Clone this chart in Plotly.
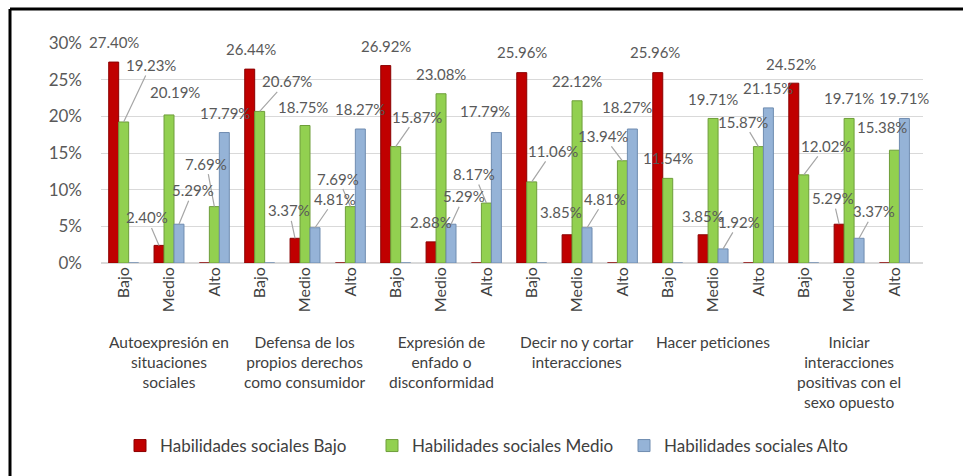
import plotly.graph_objects as go

# ---- data ----
groups = [
    "Autoexpresión en<br>situaciones<br>sociales",
    "Defensa de los<br>propios derechos<br>como consumidor",
    "Expresión de<br>enfado o<br>disconformidad",
    "Decir no y cortar<br>interacciones",
    "Hacer peticiones",
    "Iniciar<br>interacciones<br>positivas con el<br>sexo opuesto",
]
levels = ["Bajo", "Medio", "Alto"]
series_names = ["Habilidades sociales Bajo", "Habilidades sociales Medio", "Habilidades sociales Alto"]

hs_bajo = [27.40, 2.40, 0, 26.44, 3.37, 0, 26.92, 2.88, 0, 25.96, 3.85, 0, 25.96, 3.85, 0, 24.52, 5.29, 0]
hs_medio = [19.23, 20.19, 7.69, 20.67, 18.75, 7.69, 15.87, 23.08, 8.17, 11.06, 22.12, 13.94,
            11.54, 19.71, 15.87, 12.02, 19.71, 15.38]
hs_alto = [0, 5.29, 17.79, 0, 4.81, 18.27, 0, 5.29, 17.79, 0, 4.81, 18.27, 0, 1.92, 21.15, 0, 3.37, 19.71]

# ---- styling ----
colors = ["#C00000", "#92D050", "#95B3D7"]
edge = ["#8B0000", "#6E9E3A", "#6F8CB0"]
FONT = "Lato"
W, H = 963, 476
ML, MR, MT, MB = 101, 40, 43, 213
BARGAP = 0.34
X_END = 17.63

# label offsets (dx, dy in px from bar top to label centre) and leader flags
offsets = [
    # hs_bajo
    [(0, -20, 0), (-12, -28, 1), None, (1, -20, 0), (-6, -28, 1), None, (0, -20, 0), (0, -20, 0), None,
     (0, -21, 0), (-6, -23, 0), None, (-3, -21, 0), (0, -19, 0), None, (-3, -19, 0), (-6, -26, 1), None],
    # hs_medio
    [(27, -57, 1), (6, -23, 0), (-8, -43, 1), (27, -30, 1), (-2, -19, 0), (-12, -28, 1),
     (21, -30, 1), (0, -20, 0), (-12, -29, 1), (21, -31, 1), (0, -20, 0), (-19, -25, 1),
     (0, -20, 0), (0, -19, 0), (-15, -25, 1), (22, -29, 1), (0, -20, 0), (-12, -23, 0)],
    # hs_alto
    [None, (14, -34, 1), (1, -20, 0), None, (20, -29, 1), (0, -20, 0), None, (13, -28, 1), (-11, -22, 0),
     None, (18, -29, 1), (-5, -22, 0), None, (16, -27, 1), (0, -20, 0), None, (15, -27, 1), (0, -20, 0)],
]

series = [hs_bajo, hs_medio, hs_alto]
xs = list(range(len(groups) * len(levels)))
ticktext = [lv for _ in groups for lv in levels]

fig = go.Figure()
for name, vals, c, e in zip(series_names, series, colors, edge):
    fig.add_trace(go.Bar(x=xs, y=vals, name=name, marker=dict(color=c, line=dict(color=e, width=1))))

bw = (1 - BARGAP) / 3
annotations = []
for si, vals in enumerate(series):
    for i, v in enumerate(vals):
        off = offsets[si][i]
        if v == 0 or off is None:
            continue
        dx, dy, lead = off
        annotations.append(dict(
            x=xs[i] + (si - 1) * bw, y=v, xref="x", yref="y",
            text=f"{v:.2f}%", showarrow=True, arrowhead=0, arrowwidth=1.2,
            arrowcolor="#A6A6A6" if lead else "rgba(0,0,0,0)",
            ax=dx, ay=dy, standoff=0,
            font=dict(family=FONT, size=15, color="#595959"),
        ))

plot_h = H - MT - MB
for gi, g in enumerate(groups):
    annotations.append(dict(
        x=xs[gi * 3 + 1], y=-(331 - (H - MB)) / plot_h, xref="x", yref="paper",
        text=g, showarrow=False, yanchor="top", xanchor="center", align="center",
        font=dict(family=FONT, size=15.5, color="#404040"),
    ))

plot_w = W - ML - MR
bx0 = (10 - ML) / plot_w
bx1 = (W + 20 - ML) / plot_w
by_top = ((H - MB) - 9) / plot_h
by_bot = -(H + 20 - (H - MB)) / plot_h
shapes = [
    dict(type="line", xref="paper", yref="paper", x0=bx0, x1=bx1, y0=by_top, y1=by_top,
         line=dict(color="black", width=3), layer="above"),
    dict(type="line", xref="paper", yref="paper", x0=bx0, x1=bx0, y0=by_top, y1=by_bot,
         line=dict(color="black", width=3), layer="above"),
]

fig.update_layout(
    width=W, height=H,
    margin=dict(l=ML, r=MR, t=MT, b=MB),
    barmode="group", bargap=BARGAP, bargroupgap=0,
    plot_bgcolor="white", paper_bgcolor="white",
    font=dict(family=FONT, color="#595959"),
    xaxis=dict(tickvals=xs, ticktext=ticktext, tickangle=-90, range=[-0.5, X_END],
               showgrid=False, zeroline=False, showline=False, automargin=False,
               tickfont=dict(family=FONT, size=16, color="#404040")),
    yaxis=dict(range=[0, 30], tickvals=[0, 5, 10, 15, 20, 25, 30],
               ticktext=["0%", "5%", "10%", "15%", "20%", "25%", "30%"],
               showgrid=True, gridcolor="#D9D9D9", gridwidth=1, zeroline=True,
               zerolinecolor="#D9D9D9", ticklabelstandoff=18, automargin=False,
               tickfont=dict(family=FONT, size=17, color="#595959")),
    legend=dict(orientation="h", x=(498 - ML) / plot_w, xanchor="center", y=-(446 - (H - MB)) / plot_h,
                yanchor="middle", font=dict(family=FONT, size=17, color="#404040"),
                entrywidth=207, traceorder="normal"),
    annotations=annotations,
    shapes=shapes,
    showlegend=True,
)

fig.write_html("out.html", config={"displayModeBar": False},
               post_script=("document.body.style.margin='0';document.body.style.overflow='hidden';"
                            "document.documentElement.style.overflow='hidden';"))
